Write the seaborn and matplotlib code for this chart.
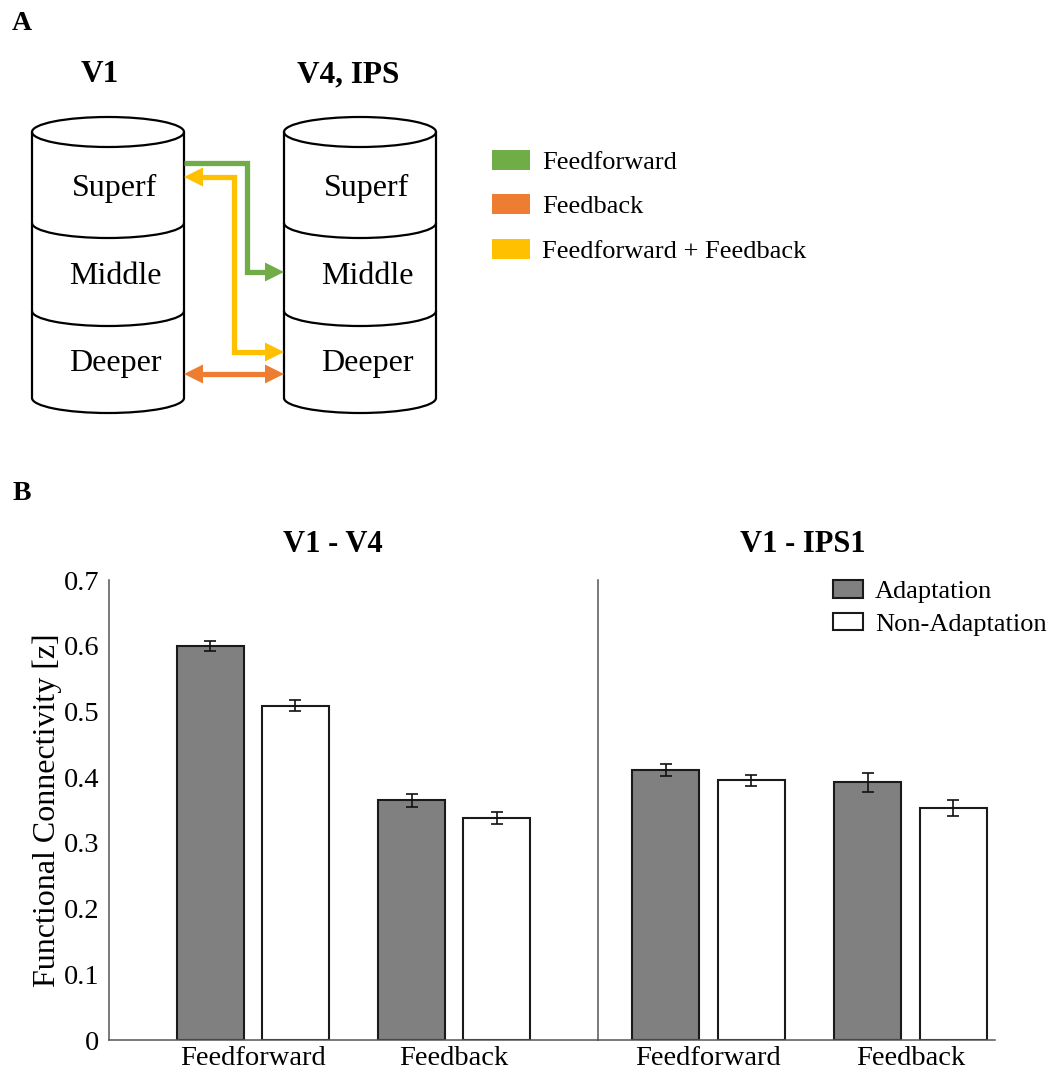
import numpy as np
import pandas as pd
import matplotlib
matplotlib.use("Agg")
import matplotlib.pyplot as plt
from matplotlib.patches import Ellipse, Arc, Rectangle, Polygon
import seaborn as sns

# ---------------- data ----------------
directions = ["Feedforward", "Feedback"]
conditions = ["Adaptation", "Non-Adaptation"]
region_titles = ["V1 - V4", "V1 - IPS1"]

v4_adapt = [0.599, 0.365]
v4_nonadapt = [0.509, 0.338]
v4_adapt_err = [0.0076, 0.0099]
v4_nonadapt_err = [0.0086, 0.0094]

ips_adapt = [0.411, 0.392]
ips_nonadapt = [0.395, 0.353]
ips_adapt_err = [0.0090, 0.0140]
ips_nonadapt_err = [0.0084, 0.0120]

yticks = [0, 0.1, 0.2, 0.3, 0.4, 0.5, 0.6, 0.7]
ytick_labels = ["0", "0.1", "0.2", "0.3", "0.4", "0.5", "0.6", "0.7"]

layer_names = ["Superf", "Middle", "Deeper"]
legend_a_labels = ["Feedforward", "Feedback", "Feedforward + Feedback"]
green, orange, yellow = "#70AD47", "#ED7D31", "#FFC000"
legend_a_colors = [green, orange, yellow]

# ---------------- style ----------------
sns.set_style("white")
plt.rcParams["font.family"] = ["Liberation Serif", "DejaVu Serif"]
plt.rcParams["text.color"] = "black"
plt.rcParams["axes.labelcolor"] = "black"
plt.rcParams["xtick.color"] = "black"
plt.rcParams["ytick.color"] = "black"

W, H = 1048, 1073
fig = plt.figure(figsize=(W / 100, H / 100), dpi=100)

# ---------------- panel A (diagram in pixel coords) ----------------
ax0 = fig.add_axes([0, 0, 1, 1], zorder=-1)
ax0.set_xlim(0, W)
ax0.set_ylim(H, 0)
ax0.axis("off")
ax0.patch.set_alpha(0)

ax0.text(22, 24, "A", fontsize=20, fontweight="bold", ha="center", va="center")
ax0.text(22, 494, "B", fontsize=20, fontweight="bold", ha="center", va="center")

def cylinder(cx, label_x):
    half_w = 76
    eh = 30
    top, d1, d2, bot = 132, 223, 311, 398
    lw = 1.6
    ax0.add_patch(Rectangle((cx - half_w, top), 2 * half_w, bot - top, fc="white", ec="none"))
    ax0.add_patch(Ellipse((cx, bot), 2 * half_w, eh, fc="white", ec="none"))
    ax0.plot([cx - half_w, cx - half_w], [top, bot], color="black", lw=lw)
    ax0.plot([cx + half_w, cx + half_w], [top, bot], color="black", lw=lw)
    ax0.add_patch(Ellipse((cx, top), 2 * half_w, eh, fc="white", ec="black", lw=lw))
    for y in (d1, d2, bot):
        ax0.add_patch(Arc((cx, y), 2 * half_w, eh, theta1=0, theta2=180, color="black", lw=lw))
    for name, y in zip(layer_names, (188, 276, 363)):
        ax0.text(label_x, y, name, fontsize=23, ha="center", va="center")

cylinder(108, 115)
cylinder(360, 367)
ax0.text(100, 75, "V1", fontsize=22.5, fontweight="bold", ha="center", va="center")
ax0.text(348, 75, "V4, IPS", fontsize=22.5, fontweight="bold", ha="center", va="center")

alw = 3.8

def head(tip_x, y, direction, color):
    L, hw = 19, 9.5
    bx = tip_x - L * direction
    ax0.add_patch(Polygon([(bx, y - hw), (tip_x, y), (bx, y + hw)], closed=True,
                          fc=color, ec="none", zorder=5))

# green feedforward
ax0.plot([184, 247, 247, 266], [162.5, 162.5, 272, 272], color=green, lw=alw,
         solid_joinstyle="miter", solid_capstyle="butt", zorder=4)
head(284, 272, 1, green)
# yellow feedforward + feedback
ax0.plot([202, 234, 234, 266], [177, 177, 352, 352], color=yellow, lw=alw,
         solid_joinstyle="miter", solid_capstyle="butt", zorder=4)
head(184, 177, -1, yellow)
head(284, 352, 1, yellow)
# orange feedback
ax0.plot([202, 266], [374, 374], color=orange, lw=alw, solid_capstyle="butt", zorder=4)
head(184, 374, -1, orange)
head(284, 374, 1, orange)

# legend for panel A
for lab, col, yc in zip(legend_a_labels, legend_a_colors, (160, 204, 249)):
    ax0.add_patch(Rectangle((492, yc - 10), 38, 20, fc=col, ec="none"))
    ax0.text(542, yc + 3, lab, fontsize=19, ha="left", va="center")

# ---------------- panel B ----------------
ax_l = fig.add_axes([109 / W, 1 - 1040 / H, (598 - 109) / W, 460 / H])
ax_r = fig.add_axes([598 / W, 1 - 1040 / H, (995 - 598) / W, 460 / H])

panels = [
    (ax_l, v4_adapt, v4_nonadapt, v4_adapt_err, v4_nonadapt_err, (-0.716, 1.716)),
    (ax_r, ips_adapt, ips_nonadapt, ips_adapt_err, ips_nonadapt_err, (-0.547, 1.418)),
]

spine_col = "#555555"
for ax, a, n, ae, ne, xl in panels:
    df = pd.DataFrame({
        "direction": directions * 2,
        "condition": [conditions[0]] * 2 + [conditions[1]] * 2,
        "value": list(a) + list(n),
    })
    sns.barplot(data=df, x="direction", y="value", hue="condition",
                order=directions, hue_order=conditions,
                palette={conditions[0]: "#808080", conditions[1]: "#ffffff"},
                width=0.846, gap=0.213, errorbar=None,
                edgecolor="#1a1a1a", linewidth=1.5, saturation=1, ax=ax)
    errs = [ae, ne]
    for cont, err in zip(ax.containers, errs):
        xs = [b.get_x() + b.get_width() / 2 for b in cont]
        ys = [b.get_height() for b in cont]
        ax.errorbar(xs, ys, yerr=err, fmt="none", ecolor="#111111",
                    elinewidth=1.2, capsize=4, capthick=1.2, zorder=5)
    ax.set_xlim(*xl)
    ax.set_ylim(0, 0.7)
    ax.set_yticks(yticks)
    ax.set_xlabel("")
    ax.set_ylabel("")
    for s in ("top", "right"):
        ax.spines[s].set_visible(False)
    for s in ("left", "bottom"):
        ax.spines[s].set_color(spine_col)
        ax.spines[s].set_linewidth(1.1)
    ax.tick_params(axis="both", direction="in", colors=spine_col, labelcolor="black",
                   labelsize=20.5, length=5, width=1)
    ax.tick_params(axis="x", pad=4)
    ax.tick_params(axis="y", pad=7)
    ax.patch.set_alpha(0)
    if ax.get_legend() is not None:
        ax.get_legend().remove()

ax_l.set_yticklabels(ytick_labels)
ax_r.set_yticklabels([])
ax_l.set_ylabel("Functional Connectivity [z]", fontsize=23, color="black")
ax_l.yaxis.set_label_coords(-0.097, 0.5)

handles, labels = ax_r.get_legend_handles_labels()
leg = ax_r.legend(handles, labels, loc="upper left",
                  bbox_to_anchor=(833 / W, 1 - 580 / H), bbox_transform=fig.transFigure,
                  frameon=False, fontsize=19, handlelength=1.14, handleheight=0.65,
                  handletextpad=0.45, labelspacing=0.37, borderpad=0, borderaxespad=0)
for t in leg.get_texts():
    t.set_color("black")

fig.text(333 / W, 1 - 545 / H, region_titles[0], fontsize=22, fontweight="bold",
         ha="center", va="center", color="black")
fig.text(803 / W, 1 - 545 / H, region_titles[1], fontsize=22, fontweight="bold",
         ha="center", va="center", color="black")

fig.savefig("out.png", dpi=100)
